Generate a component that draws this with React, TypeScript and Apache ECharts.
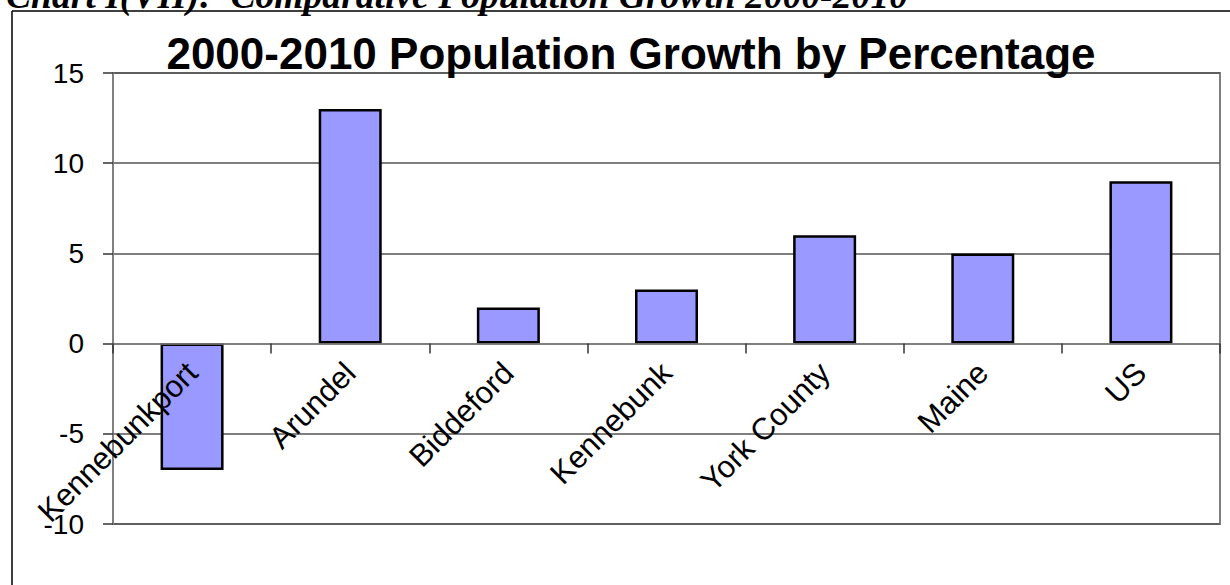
import React, { useEffect, useRef } from "react";
import * as echarts from "echarts";

const categories = ["Kennebunkport", "Arundel", "Biddeford", "Kennebunk", "York County", "Maine", "US"];
const growth = [-7, 13, 2, 3, 6, 5, 9];
const chartTitle = "2000-2010 Population Growth by Percentage";
const pageHeading = "Chart I(VII):  Comparative Population Growth 2000-2010";

export default function App() {
  const ref = useRef<HTMLDivElement>(null);
  useEffect(() => {
    if (!ref.current) return;
    const chart = echarts.init(ref.current, null, { renderer: "svg" });
    const font = "Liberation Sans, Arial, sans-serif";
    const gridTop = 73;
    const gridBottom = 61;
    const yMin = -10;
    const yMax = 15;
    const plotH = 585 - gridTop - gridBottom;
    const zeroOffset = -(plotH * (0 - yMin)) / (yMax - yMin);
    chart.setOption({
      animation: false,
      backgroundColor: "#ffffff",
      grid: {
        left: 113,
        right: 10,
        top: gridTop,
        bottom: gridBottom,
        show: true,
        borderColor: "#808080",
        borderWidth: 2,
        containLabel: false,
        outerBoundsMode: "none",
      },
      xAxis: {
        type: "category",
        data: categories,
        z: 5,
        position: "bottom",
        offset: zeroOffset,
        axisLine: { onZero: false, lineStyle: { color: "#808080", width: 1.5 } },
        axisTick: { show: true, length: 10, lineStyle: { color: "#333333", width: 1.5 } },
        axisLabel: {
          rotate: 45,
          fontSize: 31,
          fontFamily: font,
          color: "#000000",
          margin: 24,
          interval: 0,
        },
        splitLine: { show: false },
      },
      yAxis: {
        type: "value",
        min: yMin,
        max: yMax,
        interval: 5,
        axisLine: { show: true, lineStyle: { color: "#808080", width: 2 } },
        axisTick: { show: true, length: 10, lineStyle: { color: "#333333", width: 1.5 } },
        axisLabel: {
          fontSize: 28,
          fontFamily: font,
          color: "#000000",
          margin: 29,
        },
        splitLine: { show: true, lineStyle: { color: "#555555", width: 1.5 } },
      },
      series: [
        {
          type: "bar",
          data: growth,
          barWidth: 63,
          itemStyle: { color: "#9999FF", borderColor: "#000000", borderWidth: 2.5 },
        },
      ],
      graphic: [
        {
          type: "line",
          shape: { x1: 12, y1: 11, x2: 1230, y2: 11 },
          style: { stroke: "#000000", lineWidth: 1.5 },
        },
        {
          type: "line",
          shape: { x1: 12, y1: 11, x2: 12, y2: 585 },
          style: { stroke: "#000000", lineWidth: 1.5 },
        },
        {
          type: "text",
          x: 6,
          y: 14,
          style: {
            text: pageHeading,
            font: "italic bold 37.6px 'Liberation Serif', 'Times New Roman', serif",
            fill: "#000000",
            textVerticalAlign: "bottom",
            verticalAlign: "bottom",
          },
        },
        {
          type: "text",
          x: 631,
          y: 75,
          z: 10,
          style: {
            text: chartTitle,
            font: "bold 44px 'Liberation Sans', Arial, sans-serif",
            fill: "#000000",
            align: "center",
            textAlign: "center",
            verticalAlign: "bottom",
            textVerticalAlign: "bottom",
          },
        },
      ],
    });
    return () => chart.dispose();
  }, []);
  return (
    <div
      ref={ref}
      style={{ position: "absolute", left: 0, top: 0, width: 1230, height: 585 }}
    />
  );
}
